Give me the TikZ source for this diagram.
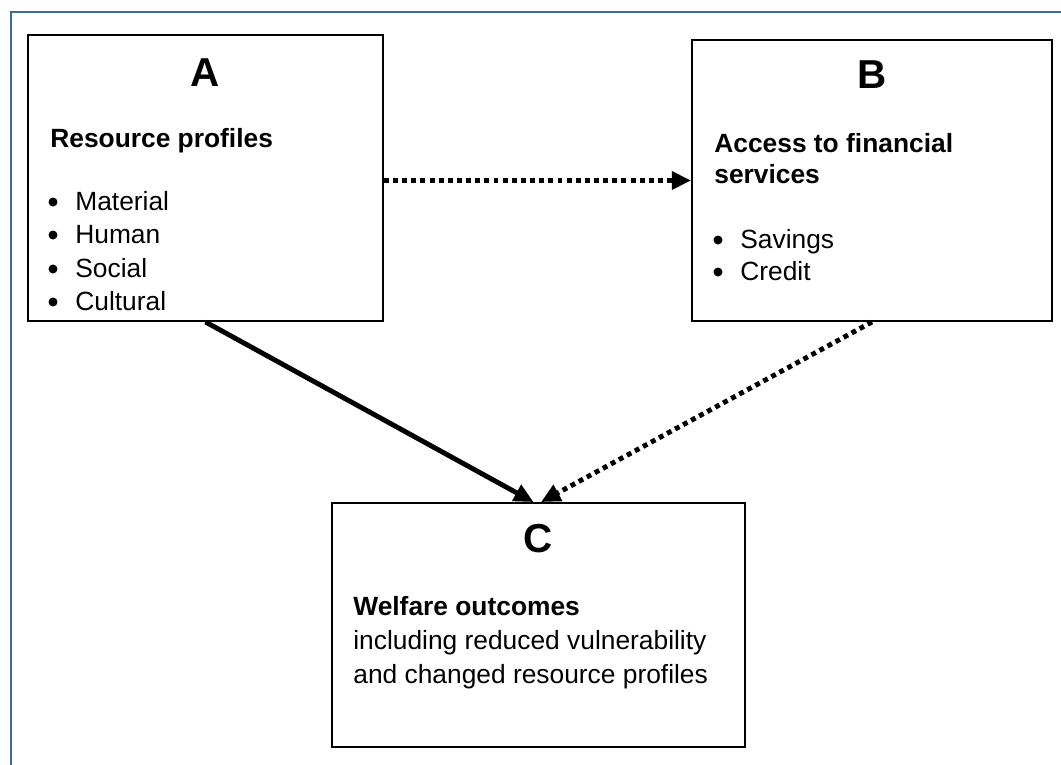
\documentclass[tikz,border=0pt]{standalone}
\usepackage{fontspec}
\setmainfont{Liberation Sans}
\usetikzlibrary{arrows.meta}
\definecolor{framecol}{RGB}{65,105,165}
\tikzset{
  blk/.style={draw=black, line width=1.1pt, inner sep=0pt},
  letter/.style={anchor=base, inner sep=0pt, font=\fontsize{23pt}{27pt}\selectfont\bfseries},
  txt/.style={anchor=base west, inner sep=0pt, font=\fontsize{15pt}{18pt}\selectfont},
  head/.style={txt, font=\fontsize{15pt}{18pt}\selectfont\bfseries},
  bul/.style={circle, fill=black, inner sep=0pt, minimum size=0.18cm},
  solidarrow/.style={line width=2.8pt, -{Triangle[length=11pt,width=10pt]}},
  dotarrow/.style={line width=2.8pt, dash pattern=on 2.8pt off 2.4pt, -{Triangle[length=11pt,width=10pt]}}
}
\begin{document}
\begin{tikzpicture}[x=0.02cm,y=-0.02cm]
\useasboundingbox (0,0) rectangle (1061,764);
\clip (0,0) rectangle (1061,764);
% outer frame
\draw[framecol, line width=1.2pt] (11,12) rectangle (1090,800);
% boxes
\node[blk, minimum width=7.1cm, minimum height=5.72cm] (A) at (205.5,178) {};
\node[blk, minimum width=7.2cm, minimum height=5.62cm] (B) at (872,180.5) {};
\node[blk, minimum width=8.26cm, minimum height=4.88cm] (C) at (538.5,625) {};
% box A
\node[letter] (Aname) at (205.5,86) {A};
\node[head] (Ahead) at (50,147) {Resource profiles};
\foreach \y/\t in {210/Material, 243/Human, 277/Social, 310/Cultural}{
  \node[bul] (Ab\y) at (53,\y-8) {};
  \node[txt] (At\y) at (75,\y) {\t};
}
% box B
\node[letter] (Bname) at (872,88) {B};
\node[head] (Bhead1) at (714,152) {Access to financial};
\node[head] (Bhead2) at (714,183) {services};
\foreach \y/\t in {248/Savings, 280/Credit}{
  \node[bul] (Bb\y) at (718,\y-8) {};
  \node[txt] (Bt\y) at (740,\y) {\t};
}
% box C
\node[letter] (Cname) at (538.5,552) {C};
\node[head] (Chead) at (353,615) {Welfare outcomes};
\node[txt] (Cline1) at (353,649) {including reduced vulnerability};
\node[txt] (Cline2) at (353,683) {and changed resource profiles};
% arrows
\draw[dotarrow] ([yshift=-0.05cm]A.east) -- ([yshift=-0.05cm]A.east -| B.west);
\draw[solidarrow] (A.south) -- ([xshift=-0.1cm]C.north);
\draw[dotarrow] (B.south) -- ([xshift=0.05cm]C.north);
\end{tikzpicture}
\end{document}
